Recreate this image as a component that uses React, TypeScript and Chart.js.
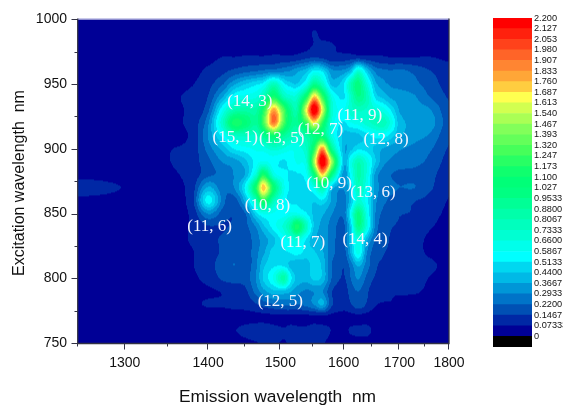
import React, { useEffect, useRef } from "react";
import { Chart, registerables } from "chart.js";

Chart.register(...registerables);

const emissionNm = [1250,1300,1350,1380,1400,1420,1435,1450,1465,1475,1490,1505,1515,1525,1540,1552,1565,1580,1600,1612,1625,1640,1655,1670,1685,1700,1730,1760,1800];
const excitationNm = [750,760,770,780,790,800,810,820,830,840,850,860,870,880,890,900,910,920,930,940,950,960,970,980,990,1000];

const ex750 = [.03,.03,.03,.04,.04,.04,.05,.06,.07,.08,.08,.07,.08,.08,.08,.09,.08,.05,.04,.05,.05,.05,.04,.04,.04,.03,.03,.03,.03];
const ex760 = [.03,.03,.03,.04,.05,.05,.07,.09,.11,.12,.1,.08,.1,.09,.09,.12,.11,.07,.06,.08,.09,.09,.06,.05,.04,.04,.04,.03,.03];
const ex770 = [.03,.03,.03,.04,.04,.05,.05,.05,.05,.05,.05,.05,.05,.05,.05,.05,.05,.05,.05,.05,.05,.05,.04,.04,.04,.04,.04,.03,.03];
const ex780 = [.03,.03,.04,.06,.08,.08,.09,.1,.14,.18,.22,.24,.24,.22,.25,.3,.38,.16,.1,.14,.2,.14,.08,.07,.07,.06,.05,.05,.04];
const ex790 = [.03,.03,.04,.05,.06,.08,.1,.13,.25,.34,.42,.42,.38,.32,.28,.3,.3,.15,.1,.18,.22,.16,.1,.09,.08,.08,.08,.06,.04];
const ex800 = [.03,.04,.05,.06,.1,.16,.18,.18,.3,.45,.6,.85,.55,.42,.4,.46,.42,.22,.14,.22,.3,.2,.14,.13,.12,.11,.1,.07,.04];
const ex810 = [.03,.04,.05,.07,.12,.18,.22,.17,.28,.42,.5,.5,.42,.38,.4,.48,.42,.22,.15,.25,.38,.26,.16,.14,.14,.13,.12,.09,.05];
const ex820 = [.03,.04,.05,.07,.11,.16,.2,.17,.27,.35,.48,.5,.52,.55,.48,.45,.38,.25,.18,.38,.62,.3,.18,.15,.14,.13,.1,.06,.04];
const ex830 = [.03,.05,.05,.08,.12,.16,.2,.18,.26,.33,.42,.55,.62,.68,.5,.38,.36,.25,.2,.42,.65,.4,.22,.17,.14,.13,.1,.06,.05];
const ex840 = [.03,.05,.05,.08,.14,.14,.16,.2,.3,.42,.55,.68,.85,1.15,.75,.42,.35,.26,.2,.45,.95,.65,.28,.18,.15,.14,.12,.08,.05];
const ex850 = [.04,.05,.05,.09,.3,.18,.15,.22,.48,.6,.58,.55,.6,.6,.52,.42,.38,.3,.24,.55,.98,.62,.3,.2,.17,.15,.14,.1,.06];
const ex860 = [.05,.05,.05,.12,.55,.25,.18,.4,.78,1.2,.78,.55,.5,.5,.48,.45,.5,.36,.25,.42,.68,.55,.32,.24,.2,.17,.15,.12,.07];
const ex870 = [.12,.07,.05,.11,.38,.24,.3,.55,1.15,1.75,1.1,.62,.5,.45,.5,.62,.85,.42,.3,.45,.78,.6,.35,.26,.24,.22,.22,.16,.08];
const ex880 = [.05,.05,.06,.1,.2,.24,.3,.38,.7,1.15,.65,.55,.5,.5,.58,1.05,1.7,1.0,.33,.55,.82,.65,.35,.25,.22,.2,.2,.17,.1];
const ex890 = [.05,.05,.07,.11,.2,.3,.33,.42,.55,.6,.55,.5,.55,.6,.68,1.5,2.25,1.5,.42,.6,.8,.65,.45,.32,.28,.26,.24,.2,.12];
const ex900 = [.04,.05,.07,.1,.25,.4,.52,.56,.6,.62,.7,.65,.6,.62,.75,1.2,1.85,.95,.4,.42,.5,.48,.42,.36,.33,.3,.27,.23,.14];
const ex910 = [.04,.05,.06,.09,.3,.55,.72,.74,.72,.9,1.1,.9,.8,.72,.85,1.0,1.05,.65,.42,.4,.42,.48,.54,.55,.47,.38,.32,.28,.16];
const ex920 = [.04,.05,.06,.1,.28,.75,1.15,1.05,.9,1.25,1.9,1.3,.98,.92,1.25,1.65,1.2,.65,.5,.58,.62,.7,.76,.78,.62,.4,.35,.33,.18];
const ex930 = [.04,.05,.06,.09,.2,.6,.82,.85,.85,1.15,1.8,1.3,.95,.85,1.65,2.25,1.6,.72,.58,.7,.75,.72,.68,.62,.5,.36,.32,.3,.16];
const ex940 = [.03,.04,.06,.09,.15,.38,.58,.62,.65,.8,1.15,.8,.7,.72,1.15,1.75,1.25,.65,.5,.72,.95,.8,.5,.42,.35,.33,.3,.22,.14];
const ex950 = [.03,.04,.05,.07,.12,.22,.36,.44,.5,.55,.78,.55,.47,.45,.62,.95,.75,.42,.5,.8,1.0,.68,.4,.32,.28,.27,.24,.18,.12];
const ex960 = [.03,.04,.04,.05,.09,.13,.17,.2,.22,.24,.26,.28,.3,.35,.42,.55,.5,.32,.32,.42,.7,.45,.28,.24,.23,.24,.2,.15,.11];
const ex970 = [.03,.03,.04,.04,.05,.08,.08,.09,.09,.09,.1,.1,.1,.11,.14,.16,.14,.1,.11,.12,.13,.11,.1,.09,.08,.08,.08,.08,.06];
const ex980 = [.03,.03,.03,.03,.03,.03,.03,.03,.03,.03,.03,.03,.03,.04,.05,.08,.09,.08,.05,.04,.04,.04,.03,.03,.03,.03,.03,.03,.03];
const ex990 = [.03,.03,.03,.03,.03,.03,.03,.03,.03,.03,.03,.03,.03,.03,.04,.08,.05,.04,.03,.03,.03,.03,.03,.03,.03,.03,.03,.03,.03];
const ex1000 = [.03,.03,.03,.03,.03,.03,.03,.03,.03,.03,.03,.03,.03,.03,.03,.03,.03,.03,.03,.03,.03,.03,.03,.03,.03,.03,.03,.03,.03];
const intensityRows = [ex750,ex760,ex770,ex780,ex790,ex800,ex810,ex820,ex830,ex840,ex850,ex860,ex870,ex880,ex890,ex900,ex910,ex920,ex930,ex940,ex950,ex960,ex970,ex980,ex990,ex1000];

const xTickNm = [1250,1300,1350,1400,1450,1500,1550,1600,1650,1700,1750,1800];

const chiralityLabels = ["(14, 3)","(15, 1)","(13, 5)","(12, 7)","(11, 9)","(12, 8)","(10, 9)","(13, 6)","(10, 8)","(11, 6)","(11, 7)","(14, 4)","(12, 5)"];
const chiralityEm = [1456,1436,1502,1562,1628,1675,1576,1651,1481,1402,1534,1637,1500];
const chiralityEx = [936.7,909,908,915,926,907,873.5,866,856,840,828,830,782];

const xTitle = "Emission wavelength  nm";
const yTitle = "Excitation wavelength  nm";

const levelLabels = ["0","0.07333","0.1467","0.2200","0.2933","0.3667","0.4400","0.5133","0.5867","0.6600","0.7333","0.8067","0.8800","0.9533","1.027","1.100","1.173","1.247","1.320","1.393","1.467","1.540","1.613","1.687","1.760","1.833","1.907","1.980","2.053","2.127","2.200"];
const levelValues = levelLabels.map(Number);
const bandColors = ["#000000","#000096","#0028a5","#0050b4","#0073c8","#0096d7","#00b9e6","#00d7f0","#00ffff","#00ffeb","#00ffd2","#00ffbe","#00ffaa","#00ff96","#00ff82","#00ff78","#0fff6e","#28ff64","#46ff5a","#64ff5a","#82ff5a","#aaff55","#d2ff50","#ffff50","#ffcd40","#ffa637","#ff8532","#ff6428","#ff421b","#ff210d","#ff0000"];

const toWave = (nm: number) => 1e7 / nm;

function hexRgb(h: string) {
  return [parseInt(h.slice(1, 3), 16), parseInt(h.slice(3, 5), 16), parseInt(h.slice(5, 7), 16)];
}
const bandRgb = bandColors.map(hexRgb);
const bandStep = 2.2 / 30;

function cr(a: number, b: number, c: number, d: number, t: number) {
  return 0.5 * (2 * b + (c - a) * t + (2 * a - 5 * b + 4 * c - d) * t * t + (3 * b - a - 3 * c + d) * t * t * t);
}
function sampleGrid(fc: number, fr: number) {
  const nc = emissionNm.length, nr = excitationNm.length;
  const c0 = Math.min(Math.floor(fc), nc - 2), r0 = Math.min(Math.floor(fr), nr - 2);
  const tc = fc - c0, tr = fr - r0;
  const cl = (i: number, n: number) => Math.max(0, Math.min(n - 1, i));
  const vals: number[] = [];
  for (let j = -1; j <= 2; j++) {
    const row = intensityRows[cl(r0 + j, nr)];
    vals.push(cr(row[cl(c0 - 1, nc)], row[cl(c0, nc)], row[cl(c0 + 1, nc)], row[cl(c0 + 2, nc)], tc));
  }
  return cr(vals[0], vals[1], vals[2], vals[3], tr);
}

const contourPlugin = {
  id: "contour",
  beforeDatasetsDraw(chart: any) {
    const { ctx, chartArea: a, scales } = chart;
    const w = Math.ceil(a.right - a.left), h = Math.ceil(a.bottom - a.top);
    const off = document.createElement("canvas");
    off.width = w; off.height = h;
    const oc = off.getContext("2d")!;
    const img = oc.createImageData(w, h);
    const waves = emissionNm.map(toWave);
    for (let py = 0; py < h; py++) {
      const ex = scales.y.getValueForPixel(a.top + py + 0.5);
      const fr = Math.max(0, Math.min(excitationNm.length - 1, (ex - excitationNm[0]) / 10));
      let seg = 0;
      for (let px = 0; px < w; px++) {
        const wv = scales.x.getValueForPixel(a.left + px + 0.5);
        while (seg < waves.length - 2 && wv < waves[seg + 1]) seg++;
        const fc = Math.max(0, Math.min(waves.length - 1, seg + (waves[seg] - wv) / (waves[seg] - waves[seg + 1])));
        const v = sampleGrid(fc, fr);
        const k = Math.max(1, Math.min(30, Math.ceil(v / bandStep)));
        const c = bandRgb[k];
        const o = (py * w + px) * 4;
        img.data[o] = c[0]; img.data[o + 1] = c[1]; img.data[o + 2] = c[2]; img.data[o + 3] = 255;
      }
    }
    oc.putImageData(img, 0, 0);
    ctx.save();
    ctx.beginPath();
    ctx.rect(a.left, a.top, a.right - a.left, a.bottom - a.top);
    ctx.clip();
    ctx.filter = "blur(0.5px)";
    ctx.drawImage(off, a.left, a.top);
    ctx.restore();
  },
  afterDatasetsDraw(chart: any) {
    const { ctx, chartArea: a, scales } = chart;
    ctx.save();
    ctx.font = "17px 'Liberation Serif'";
    ctx.fillStyle = "#f2f4ff";
    ctx.textAlign = "center";
    ctx.textBaseline = "middle";
    chiralityLabels.forEach((t, i) => {
      ctx.fillText(t, scales.x.getPixelForValue(toWave(chiralityEm[i])), scales.y.getPixelForValue(chiralityEx[i]));
    });
    // axis titles
    ctx.fillStyle = "#111";
    ctx.font = "17.4px 'Liberation Sans'";
    ctx.fillText(xTitle, 277.5, 397);
    ctx.save();
    ctx.translate(20, 183);
    ctx.rotate(-Math.PI / 2);
    ctx.font = "16px 'Liberation Sans'";
    ctx.fillText(yTitle, 0, 0);
    ctx.restore();
    // frame
    ctx.lineWidth = 1;
    ctx.strokeStyle = "#a8a8dc";
    ctx.beginPath(); ctx.moveTo(a.left, a.top - 0.5); ctx.lineTo(a.right, a.top - 0.5); ctx.stroke();
    ctx.lineWidth = 1.3;
    ctx.strokeStyle = "#333344";
    ctx.beginPath();
    ctx.moveTo(a.left - 0.3, a.top - 1); ctx.lineTo(a.left - 0.3, a.bottom + 0.5); ctx.lineTo(a.right, a.bottom + 0.5); ctx.lineTo(a.right, a.top - 1);
    ctx.stroke();
    // ticks
    ctx.lineWidth = 1;
    ctx.beginPath();
    scales.x.ticks.forEach((t: any) => {
      const p = Math.round(scales.x.getPixelForValue(t.value)) - 0.5;
      const len = t.label ? 6 : 3;
      ctx.moveTo(p, a.bottom); ctx.lineTo(p, a.bottom + len + 0.5);
    });
    scales.y.ticks.forEach((t: any) => {
      const p = Math.round(scales.y.getPixelForValue(t.value)) + 0.5;
      const len = t.label ? 6 : 3;
      ctx.moveTo(a.left, p); ctx.lineTo(a.left - len - 0.5, p);
    });
    ctx.stroke();
    ctx.restore();
  },
};

export default function App() {
  const mainRef = useRef<HTMLCanvasElement>(null);
  const barRef = useRef<HTMLCanvasElement>(null);

  useEffect(() => {
    const points: any[] = [];
    excitationNm.forEach((ex, r) =>
      emissionNm.forEach((nm, c) => points.push({ x: toWave(nm), y: ex, v: intensityRows[r][c] }))
    );
    const main = new Chart(mainRef.current!, {
      type: "scatter",
      data: { datasets: [{ data: points, pointRadius: 0, showLine: false }] },
      plugins: [contourPlugin],
      options: {
        animation: false,
        responsive: false,
        events: [],
        layout: { padding: { left: 0, top: 19, right: 114, bottom: 0 } },
        plugins: { legend: { display: false }, tooltip: { enabled: false } },
        scales: {
          x: {
            type: "linear",
            reverse: true,
            min: toWave(1800),
            max: toWave(1250),
            grid: { display: false, drawTicks: false },
            border: { display: false },
            afterBuildTicks: (s: any) => { s.ticks = xTickNm.map((nm) => ({ value: toWave(nm) })); },
            afterFit: (s: any) => { s.height = 62; },
            ticks: {
              autoSkip: false,
              maxRotation: 0,
              padding: 12,
              color: "#111",
              font: { family: "'Liberation Sans'", size: 14 },
              callback: (v: any) => { const nm = Math.round(1e7 / Number(v)); return nm % 100 === 0 ? String(nm) : ""; },
            },
          },
          y: {
            type: "linear",
            min: 750,
            max: 1000,
            grid: { display: false, drawTicks: false },
            border: { display: false },
            afterFit: (s: any) => { s.width = 78; },
            ticks: {
              stepSize: 25,
              autoSkip: false,
              padding: 11,
              color: "#111",
              font: { family: "'Liberation Sans'", size: 14 },
              callback: (v: any) => (Number(v) % 50 === 0 ? String(v) : ""),
            },
          },
        },
      } as any,
    });

    const bar = new Chart(barRef.current!, {
      type: "bar",
      data: {
        labels: ["scale"],
        datasets: bandColors.map((color, i) => ({
          data: [i === 0 ? -levelValues[1] : levelValues[i] - levelValues[i - 1]],
          backgroundColor: color,
          borderWidth: 0,
          barPercentage: 1,
          categoryPercentage: 1,
          stack: "s",
        })),
      },
      options: {
        animation: false,
        responsive: false,
        events: [],
        layout: { padding: { left: 13, top: 18, right: 0, bottom: 58 } },
        plugins: { legend: { display: false }, tooltip: { enabled: false } },
        scales: {
          x: { display: false, stacked: true },
          y: {
            type: "linear",
            position: "right",
            stacked: true,
            min: -levelValues[1],
            max: 2.2,
            grid: { display: false, drawTicks: false },
            border: { display: false },
            afterBuildTicks: (s: any) => { s.ticks = levelValues.map((value) => ({ value })); },
            afterFit: (s: any) => { s.width = 31; },
            ticks: {
              autoSkip: false,
              padding: 2,
              color: "#111",
              font: { family: "'Liberation Sans'", size: 9.2 },
              callback: (_v: any, i: number) => levelLabels[i],
            },
          },
        },
      } as any,
    });
    return () => { main.destroy(); bar.destroy(); };
  }, []);

  return (
    <div style={{ position: "fixed", left: 0, top: 0, width: 563, height: 405, background: "#fff", overflow: "hidden" }}>
      <canvas ref={mainRef} width={563} height={405} style={{ position: "absolute", left: 0, top: 0 }} />
      <canvas ref={barRef} width={83} height={405} style={{ position: "absolute", left: 480, top: 0 }} />
    </div>
  );
}
